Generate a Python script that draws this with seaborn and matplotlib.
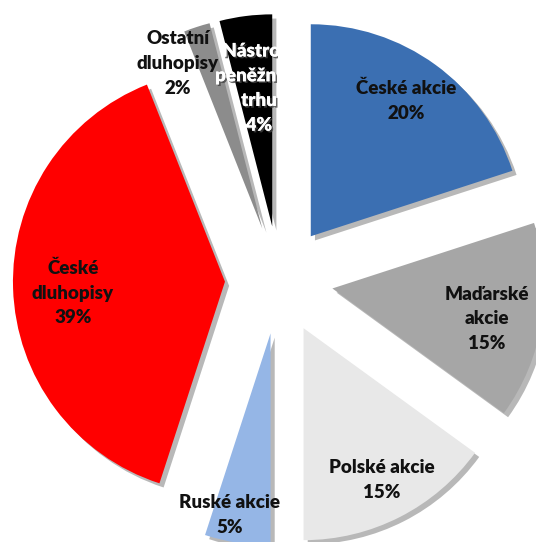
import numpy as np
import matplotlib
matplotlib.use("Agg")
import matplotlib.pyplot as plt
import matplotlib.patheffects as pe
from matplotlib.transforms import Bbox, TransformedBbox
import seaborn as sns

# Portfolio composition
categories = ["České akcie", "Maďarské akcie", "Polské akcie", "Ruské akcie",
              "České dluhopisy", "Ostatní dluhopisy", "Nástroje peněžního trhu"]
label_lines = ["České akcie", "Maďarské\nakcie", "Polské akcie", "Ruské akcie",
               "České\ndluhopisy", "Ostatní\ndluhopisy", "Nástroje\npeněžního\ntrhu"]
shares = [20, 15, 15, 5, 39, 2, 4]

colors = ["#3B6FB2", "#A6A6A6", "#E8E8E8", "#95B6E6", "#FF0000", "#8C8C8C", "#000000"]
text_colors = ["#111111", "#111111", "#111111", "#111111", "#111111", "#111111", "white"]
# label placement: distance from pie centre and angular nudge (degrees)
label_dist = [1.035, 0.998, 1.061, 1.132, 0.974, 1.127, 0.91]
label_nudge = [0.6, -1.6, 0.3, -2.8, 1.8, 7.0, -1.2]

sns.set_theme(style="white")
plt.rcParams["font.family"] = ["Lato", "DejaVu Sans"]

fig = plt.figure(figsize=(5.36, 5.42), dpi=100)
ax = fig.add_axes([0, 0, 1, 1])

explode = [0.255] * len(shares)
wedges, _ = ax.pie(shares, explode=explode, colors=colors, startangle=90,
                   counterclock=False, radius=1.0,
                   wedgeprops=dict(linewidth=0))

for w in wedges:
    w.set_path_effects([pe.withSimplePatchShadow(offset=(3, -3), shadow_rgbFace="black",
                                                 alpha=0.28)])

scale = 212.0
ax.set_xlim(-279 / scale, 257 / scale)
ax.set_ylim(-262 / scale, 280 / scale)
ax.set_aspect("auto")
ax.axis("off")

# white labels are only visible left of the chart's vertical axis line
clip_box = TransformedBbox(Bbox([[-2.0, -2.0], [-1.0 / scale, 2.0]]), ax.transData)

for w, lab, val, tc, dist, nudge in zip(wedges, label_lines, shares, text_colors,
                                        label_dist, label_nudge):
    mid = np.deg2rad((w.theta1 + w.theta2) / 2 + nudge)
    x, y = dist * np.cos(mid), dist * np.sin(mid)
    t = ax.text(x, y, f"{lab}\n{val}%", color=tc, ha="center", va="center",
                fontsize=13.5, fontweight="heavy", linespacing=1.55)
    if tc == "white":
        t.set_path_effects([pe.withSimplePatchShadow(offset=(1.2, -1.2),
                                                     shadow_rgbFace="#444444", alpha=0.8),
                            pe.Normal()])
        t.set_clip_on(True)
        t.set_clip_box(clip_box)
        t.set_clip_path(None)

fig.savefig("out.png", dpi=100)
